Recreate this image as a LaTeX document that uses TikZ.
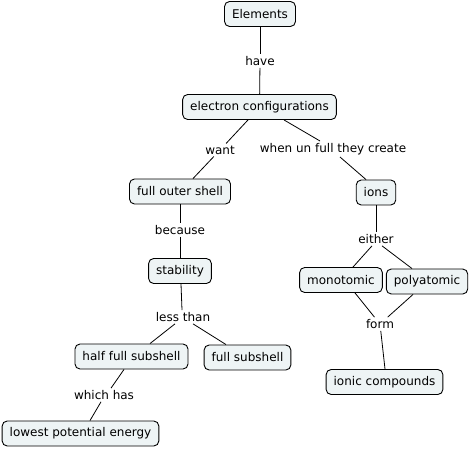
\documentclass[tikz,border=0pt]{standalone}
\usepackage{fontspec}
\setmainfont{DejaVu Sans}
\begin{document}
\begin{tikzpicture}[x=1pt,y=-1pt,
  concept/.style={draw=black, line width=0.9pt, rounded corners=5pt, fill={rgb,255:red,238;green,244;blue,245}, inner xsep=7.5pt, inner ysep=0pt, minimum height=25pt, font=\fontsize{12}{14}\selectfont},
  link/.style={inner sep=2pt, font=\fontsize{12}{14}\selectfont},
  conn/.style={draw=black, line width=0.8pt}]
\useasboundingbox (0,0) rectangle (470,449);
% concepts
\node[concept] (elem) at (260,14) {Elements};
\node[concept] (ec) at (259.5,107) {electron configurations};
\node[concept] (fos) at (180,191.5) {full outer shell};
\node[concept] (ions) at (376,192.5) {ions};
\node[concept] (stab) at (180,271) {stability};
\node[concept] (mono) at (341,280) {monotomic};
\node[concept] (poly) at (427,281.5) {polyatomic};
\node[concept] (hfs) at (131.5,356.5) {half full subshell};
\node[concept] (fs) at (247.5,357.5) {full subshell};
\node[concept] (ic) at (384.5,382) {ionic compounds};
\node[concept] (lpe) at (80.5,433.5) {lowest potential energy};
% link labels
\node[link] (have) at (260,61) {have};
\node[link] (want) at (220,150) {want};
\node[link] (when) at (333,149) {when un full they create};
\node[link] (because) at (180,230) {because};
\node[link] (either) at (376,239) {either};
\node[link] (less) at (183,317) {less than};
\node[link] (form) at (380,324) {form};
\node[link] (which) at (104,395) {which has};
% connectors
\draw[conn] (elem) -- (have);
\draw[conn] (have) -- (ec);
\draw[conn] (ec.south -| 248,0) -- (want);
\draw[conn] (want) -- (fos.north -| 193,0);
\draw[conn] (ec.south -| 284,0) -- (when.north -| 320,0);
\draw[conn] (when.south -| 340,0) -- (ions.north -| 366,0);
\draw[conn] (fos) -- (because);
\draw[conn] (because) -- (stab);
\draw[conn] (ions) -- (either);
\draw[conn] (either.south -| 372,0) -- (mono.north -| 353,0);
\draw[conn] (either.south -| 382,0) -- (poly.north -| 412,0);
\draw[conn] (stab.south -| 181,0) -- (less.north -| 182,0);
\draw[conn] (less.south -| 175,0) -- (hfs.north -| 150,0);
\draw[conn] (less.south -| 193,0) -- (fs.north -| 226,0);
\draw[conn] (mono.south -| 355,0) -- (form);
\draw[conn] (poly.south -| 413,0) -- (form);
\draw[conn] (form) -- (ic.north -| 385,0);
\draw[conn] (hfs.south -| 124,0) -- (which.north -| 111,0);
\draw[conn] (which.south -| 101,0) -- (lpe.north -| 90,0);
\end{tikzpicture}
\end{document}
